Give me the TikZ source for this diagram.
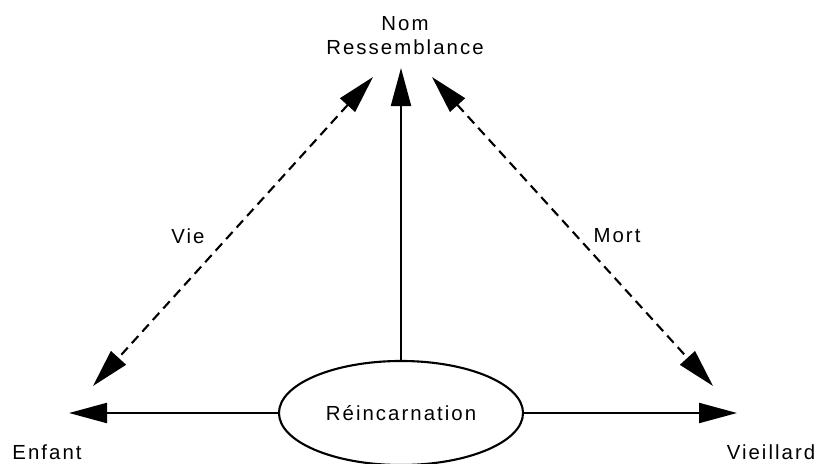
\documentclass[tikz,border=0pt]{standalone}
\usepackage{fontspec}
\setmainfont{Liberation Sans}[LetterSpace=10]
\usetikzlibrary{arrows.meta,positioning,shapes.geometric}

\begin{document}
\begin{tikzpicture}[
    x=0.025cm, y=-0.025cm,
    lbl/.style={font=\fontsize{14.5}{17}\selectfont, inner sep=0pt, align=center},
    oval/.style={draw, ellipse, line width=1.5pt, minimum width=6.1cm, minimum height=2.6cm, inner sep=0pt, font=\fontsize{14.5}{17}\selectfont},
    conn/.style={-{Triangle[length=0.95cm, width=0.5cm]}, line width=1.5pt},
    dconn/.style={{Triangle[length=0.95cm, width=0.5cm]}-{Triangle[length=0.95cm, width=0.5cm]}, line width=1.5pt, dash pattern=on 0.24cm off 0.15cm}
]
\useasboundingbox (0,0) rectangle (819,464);

% --- Labels ---
\node[lbl] (nom)   at (405, 36)  {Nom\\Ressemblance};
\node[lbl] (vie)   at (188, 236) {Vie};
\node[lbl] (mort)  at (617, 236) {Mort};
\node[lbl] (enf)   at (47, 452)  {Enfant};
\node[lbl] (vieil) at (771, 452) {Vieillard};

% --- Centre ---
\node[oval] (reinc) at (401, 413) {R\'eincarnation};

% --- Arrow ends ---
\coordinate (ntip) at (401, 68);
\coordinate (nl)   at (373, 77);
\coordinate (nr)   at (432, 77);
\coordinate (el)   at (93, 386);
\coordinate (er)   at (713, 386);
\coordinate (hl)   at (69, 413);
\coordinate (hr)   at (737, 413);

% --- Connections ---
\draw[conn] (reinc.north) -- (ntip);
\draw[conn] (reinc.west) -- (hl);
\draw[conn] (reinc.east) -- (hr);
\draw[dconn] (nl) -- (el);
\draw[dconn] (nr) -- (er);
\end{tikzpicture}
\end{document}
